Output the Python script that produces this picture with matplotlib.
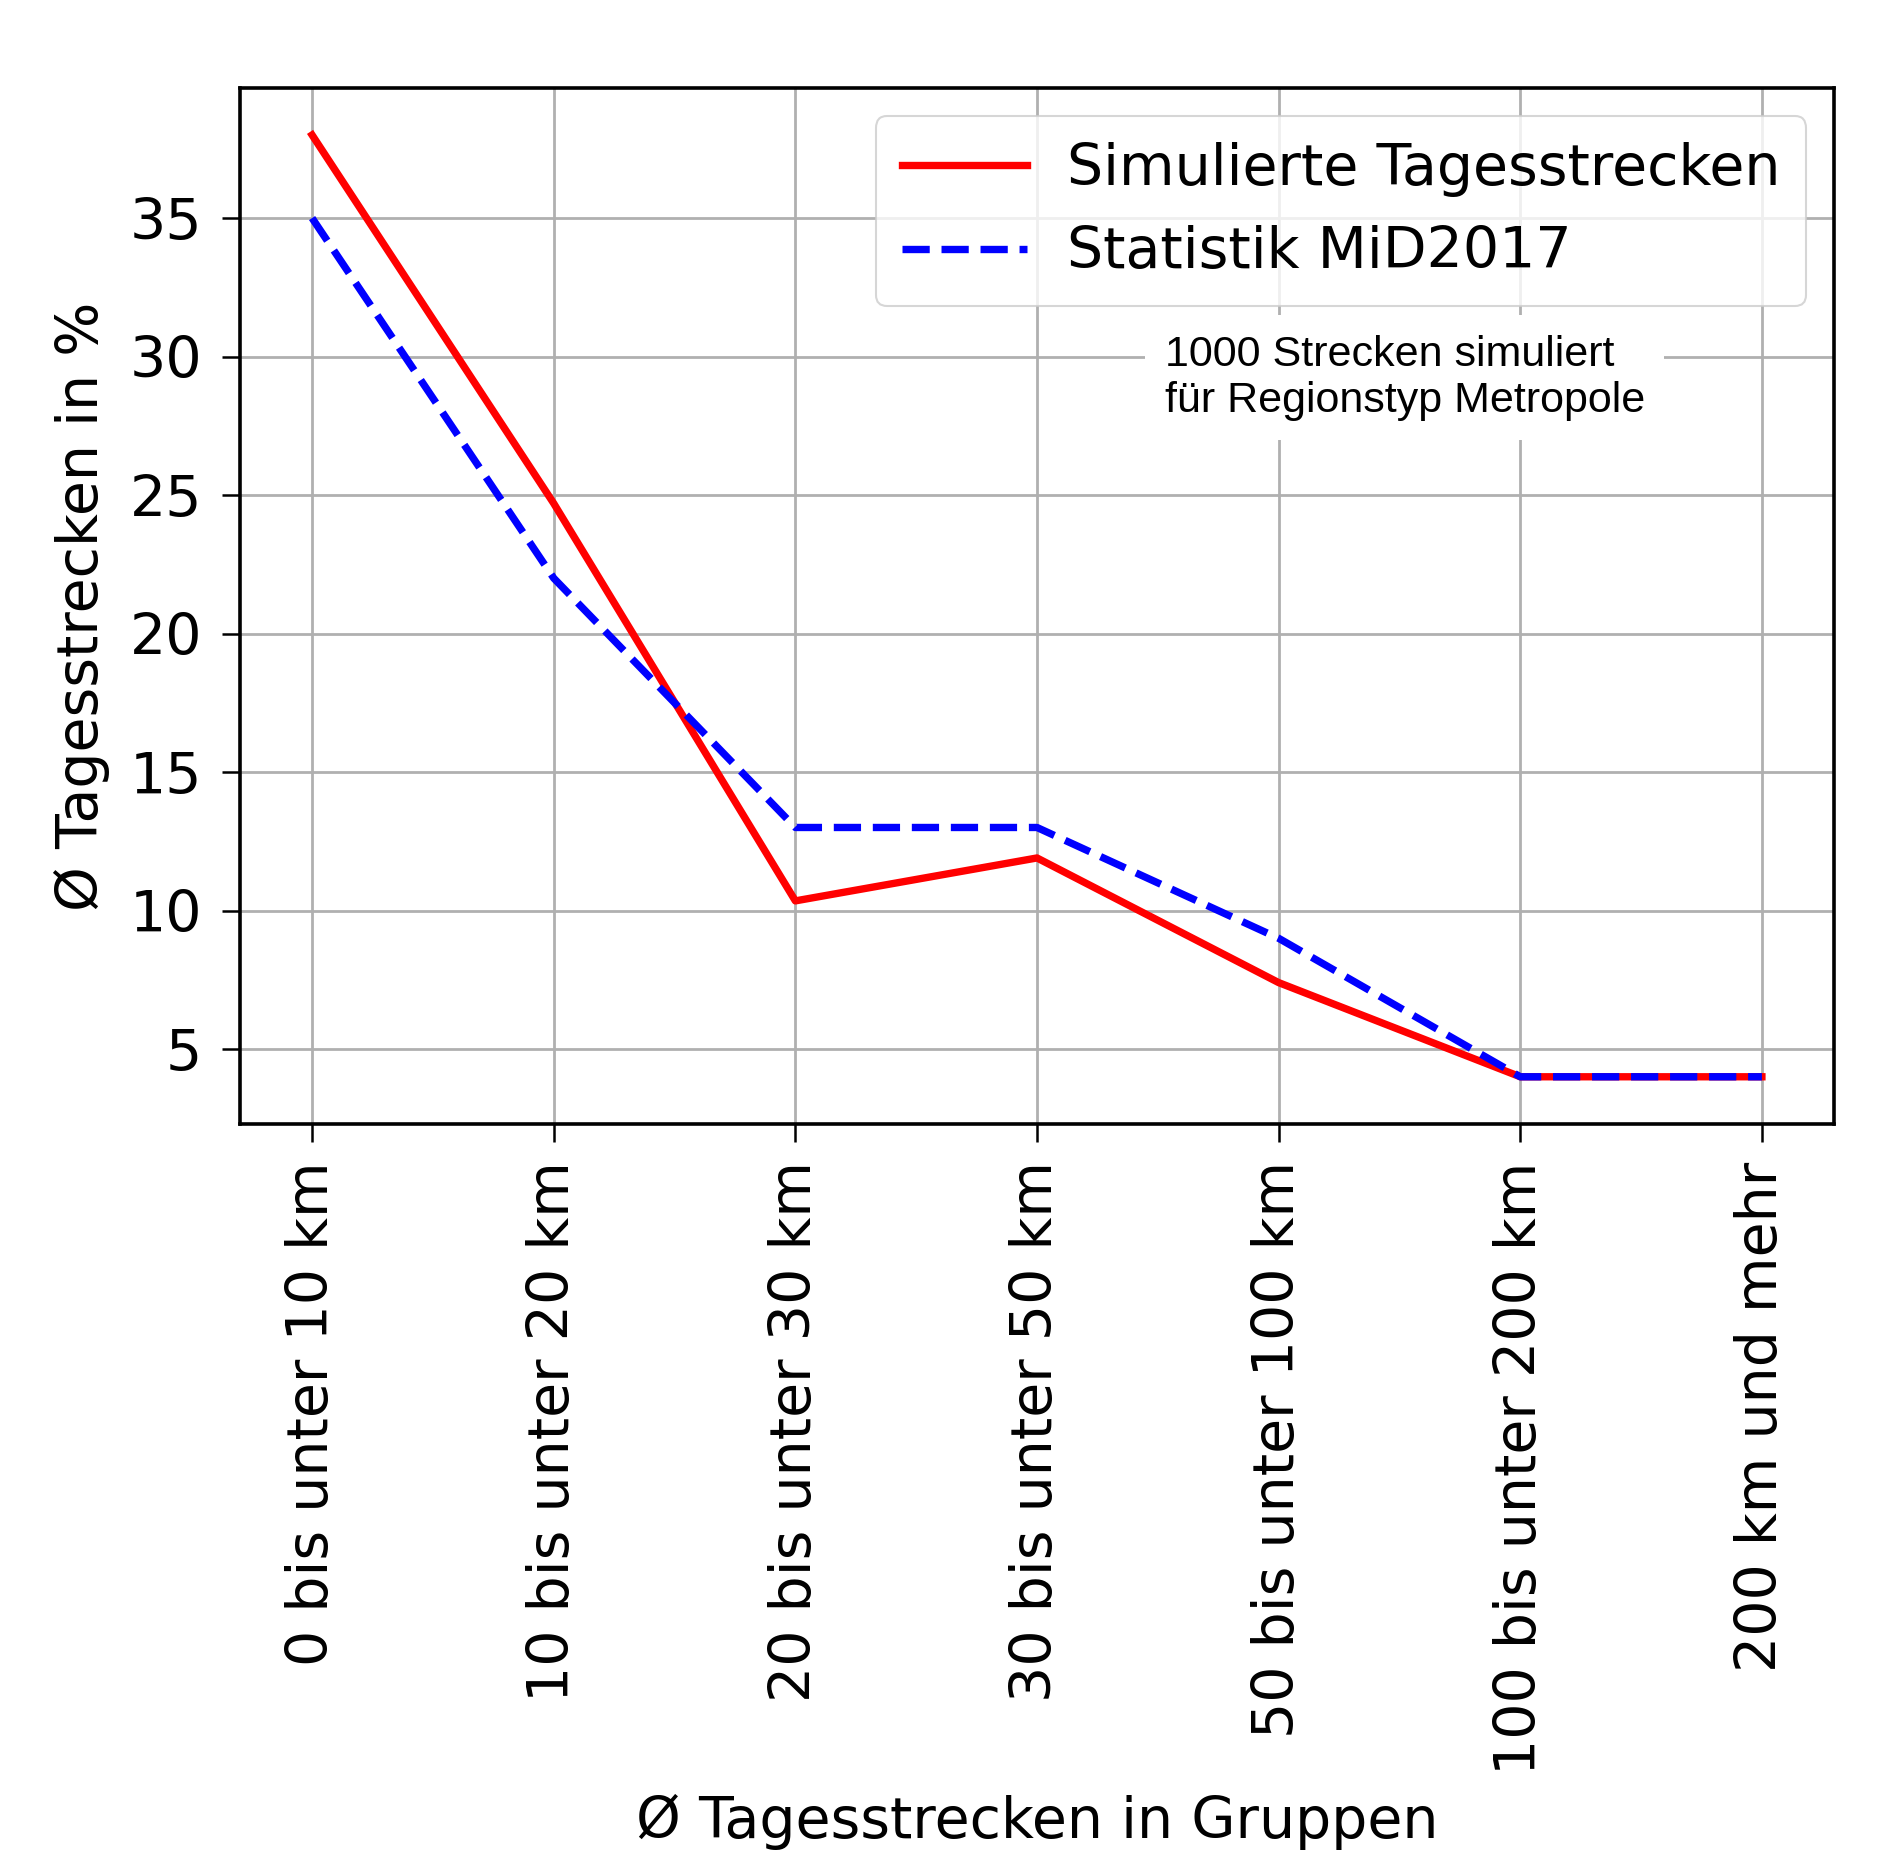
import matplotlib
matplotlib.use("Agg")
import matplotlib.pyplot as plt

categories = ["0 bis unter 10 km", "10 bis unter 20 km", "20 bis unter 30 km",
              "30 bis unter 50 km", "50 bis unter 100 km", "100 bis unter 200 km",
              "200 km und mehr"]
simuliert = [38.0, 24.7, 10.35, 11.9, 7.4, 4.0, 4.0]
statistik = [35.0, 22.0, 13.0, 13.0, 9.0, 4.0, 4.0]
yticks = [5, 10, 15, 20, 25, 30, 35]

FS = 41

fig = plt.figure(figsize=(18.97, 18.70), dpi=100)
ax = fig.add_axes([0.1263, 0.399, 0.967 - 0.1263, 0.953 - 0.399])

x = list(range(len(categories)))
ax.plot(x, simuliert, color="red", linestyle="-", linewidth=5.3, label="Simulierte Tagesstrecken")
ax.plot(x, statistik, color="blue", linestyle="--", linewidth=5.3, label="Statistik MiD2017")

ax.set_xticks(x)
ax.set_xticklabels(categories, rotation=90, fontsize=FS)
ax.set_yticks(yticks)
ax.tick_params(axis="y", labelsize=FS, width=1.8, length=13, pad=14)
ax.tick_params(axis="x", width=1.8, length=13, pad=14)
ax.grid(True, color="#b0b0b0", linewidth=2.0)
for s in ax.spines.values():
    s.set_linewidth(2.6)

ax.set_xlabel("Ø Tagesstrecken in Gruppen", fontsize=FS, labelpad=14)
ax.set_ylabel("Ø Tagesstrecken in %", fontsize=FS, labelpad=14)

leg = ax.legend(loc="upper right", fontsize=FS, handlelength=2.2, borderpad=0.45,
                handletextpad=0.7, framealpha=0.8)
leg.get_frame().set_linewidth(1.5)

ax.text(0.58, 0.72, "1000 Strecken simuliert\nfür Regionstyp Metropole",
        transform=ax.transAxes, fontsize=31, family=["Liberation Sans", "DejaVu Sans"],
        ha="left", va="center", linespacing=1.2,
        bbox=dict(facecolor="white", edgecolor="none", pad=14))

fig.savefig("out.png", dpi=100)
